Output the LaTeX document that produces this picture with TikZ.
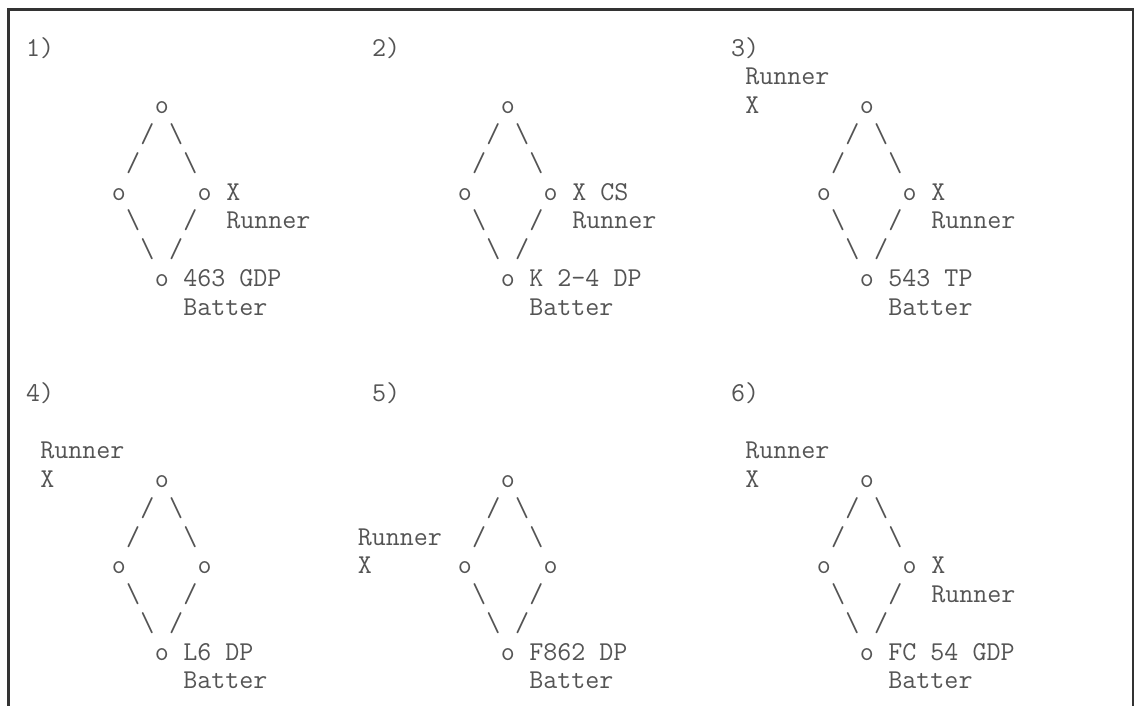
\documentclass[tikz,border=0pt]{standalone}
\usepackage{tikz}

\definecolor{ink}{gray}{0.33}
\definecolor{rule}{gray}{0.2}

% one diamond of bases, col/row grid of the panel
\newcommand{\basediamond}[1]{%
    \node[ch] (#1sec)  at (9,0)  {o};
    \node[ch] (#1sa)   at (8,1)  {/};
    \node[ch] (#1sb)   at (10,1) {\textbackslash};
    \node[ch] (#1sc)   at (7,2)  {/};
    \node[ch] (#1sd)   at (11,2) {\textbackslash};
    \node[ch] (#1thd)  at (6,3)  {o};
    \node[ch] (#1fst)  at (12,3) {o};
    \node[ch] (#1se)   at (7,4)  {\textbackslash};
    \node[ch] (#1sf)   at (11,4) {/};
    \node[ch] (#1sg)   at (8,5)  {\textbackslash};
    \node[ch] (#1sh)   at (10,5) {/};
    \node[ch] (#1home) at (9,6)  {o};
    \node[ch] (#1bat)  at (11,7) {Batter};
}

\begin{document}
\begin{tikzpicture}[
    x=0.5pt, y=-0.5pt,
    ch/.style={anchor=base west, inner sep=0pt, outer sep=0pt, text=ink,
               font=\fontsize{13.62}{16}\selectfont\ttfamily},
    frame/.style={draw=rule, line width=1.25pt},
    panel/.style={x=7.15pt, y=-14.375pt},
]
    \useasboundingbox (0,0) rectangle (1136,706);

    % --- Frame (open at the bottom) ---
    \draw[frame] (8.5,706) |- (1133,9.5) -- (1133,706);

    % --- 1) ---
    \begin{scope}[shift={(26.05,113.75)}, panel]
        \node[ch] (num1) at (0,-2) {1)};
        \basediamond{a}
        \node[ch] (ax)    at (14,3) {X};
        \node[ch] (arun)  at (14,4) {Runner};
        \node[ch] (aplay) at (11,6) {463 GDP};
    \end{scope}

    % --- 2) ---
    \begin{scope}[shift={(372.05,113.75)}, panel]
        \node[ch] (num2) at (0,-2) {2)};
        \basediamond{b}
        \node[ch] (bx)    at (14,3) {X CS};
        \node[ch] (brun)  at (14,4) {Runner};
        \node[ch] (bplay) at (11,6) {K 2-4 DP};
    \end{scope}

    % --- 3) ---
    \begin{scope}[shift={(731.05,113.75)}, panel]
        \node[ch] (num3) at (0,-2) {3)};
        \basediamond{c}
        \node[ch] (crunl) at (1,-1) {Runner};
        \node[ch] (cxl)   at (1,0)  {X};
        \node[ch] (cx)    at (14,3) {X};
        \node[ch] (crun)  at (14,4) {Runner};
        \node[ch] (cplay) at (11,6) {543 TP};
    \end{scope}

    % --- 4) ---
    \begin{scope}[shift={(26.05,487.5)}, panel]
        \node[ch] (num4) at (0,-3) {4)};
        \basediamond{d}
        \node[ch] (drunl) at (1,-1) {Runner};
        \node[ch] (dxl)   at (1,0)  {X};
        \node[ch] (dplay) at (11,6) {L6 DP};
    \end{scope}

    % --- 5) ---
    \begin{scope}[shift={(372.05,487.5)}, panel]
        \node[ch] (num5) at (0,-3) {5)};
        \basediamond{e}
        \node[ch] (erunl) at (-1,2) {Runner};
        \node[ch] (exl)   at (-1,3) {X};
        \node[ch] (eplay) at (11,6) {F862 DP};
    \end{scope}

    % --- 6) ---
    \begin{scope}[shift={(731.05,487.5)}, panel]
        \node[ch] (num6) at (0,-3) {6)};
        \basediamond{f}
        \node[ch] (frunl) at (1,-1) {Runner};
        \node[ch] (fxl)   at (1,0)  {X};
        \node[ch] (fx)    at (14,3) {X};
        \node[ch] (frun)  at (14,4) {Runner};
        \node[ch] (fplay) at (11,6) {FC 54 GDP};
    \end{scope}

\end{tikzpicture}
\end{document}
